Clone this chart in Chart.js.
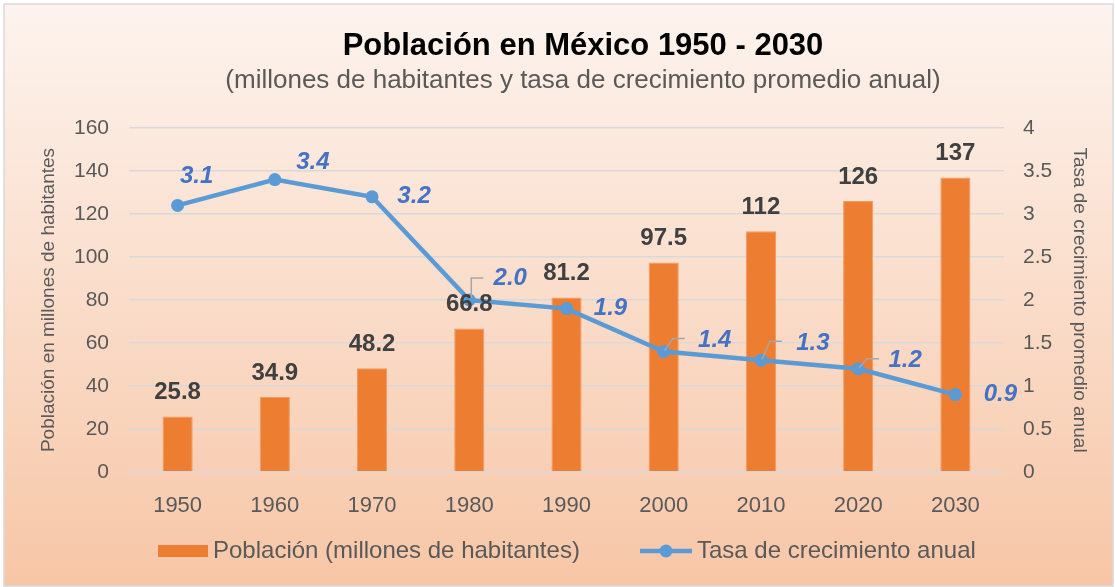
<!DOCTYPE html>
<html>
<head>
<meta charset="utf-8">
<script src="https://cdn.jsdelivr.net/npm/chart.js@4.4.0/dist/chart.umd.min.js"></script>
<style>
  html, body { margin: 0; padding: 0; background: #ffffff; }
  #wrap { width: 1115px; height: 587px; }
</style>
</head>
<body>
<div id="wrap"><canvas id="chart" width="1115" height="587"></canvas></div>
<script>
// data
const years = ['1950', '1960', '1970', '1980', '1990', '2000', '2010', '2020', '2030'];
const poblacion = [25.8, 34.9, 48.2, 66.8, 81.2, 97.5, 112, 126, 137];
const tasa = [3.1, 3.4, 3.2, 2.0, 1.9, 1.4, 1.3, 1.2, 0.9];
const poblacionLabels = ['25.8', '34.9', '48.2', '66.8', '81.2', '97.5', '112', '126', '137'];
const tasaLabels = ['3.1', '3.4', '3.2', '2.0', '1.9', '1.4', '1.3', '1.2', '0.9'];

const FONT = '"Liberation Sans", Arial, sans-serif';
const ORANGE = '#ed7d31';
const BLUE = '#5b9bd5';

// where each rate label sits relative to its point, and whether it has a leader line
const tasaLabelOffset = [
  { dx: 19, dy: -29 }, { dx: 38, dy: -17 }, { dx: 42, dy: 0 },
  { dx: 41, dy: -22, leader: 'elbow' }, { dx: 44, dy: 0 }, { dx: 51, dy: -11, leader: 'diag' },
  { dx: 52, dy: -17, leader: 'diag' }, { dx: 47, dy: -8, leader: 'diag' }, { dx: 45, dy: 0 }
];

const backgroundPlugin = {
  id: 'bg',
  beforeDraw(chart) {
    const ctx = chart.ctx;
    const g = ctx.createLinearGradient(0, 0, 0, chart.height);
    g.addColorStop(0, '#fdf4ef');
    g.addColorStop(1, '#f7c6a6');
    ctx.save();
    ctx.fillStyle = g;
    ctx.fillRect(4, 4, chart.width - 6, chart.height - 5);
    ctx.strokeStyle = '#d9d9d9';
    ctx.lineWidth = 1.5;
    ctx.strokeRect(4, 4, chart.width - 6, chart.height - 5);
    ctx.restore();
  }
};

const labelsPlugin = {
  id: 'labels',
  afterDatasetsDraw(chart) {
    const ctx = chart.ctx;
    ctx.save();
    ctx.textAlign = 'center';
    ctx.textBaseline = 'middle';

    // titles
    ctx.fillStyle = '#000000';
    ctx.font = 'bold 31px ' + FONT;
    ctx.fillText('Población en México 1950 - 2030', 583, 46);
    ctx.fillStyle = '#595959';
    ctx.font = '26px ' + FONT;
    ctx.fillText('(millones de habitantes y tasa de crecimiento promedio anual)', 583, 81);

    // bar labels
    const bars = chart.getDatasetMeta(1).data;
    ctx.fillStyle = '#404040';
    ctx.font = 'bold 24px ' + FONT;
    bars.forEach((b, i) => {
      ctx.fillText(poblacionLabels[i], b.x, b.y - 24);
    });

    // rate labels with leader lines
    const pts = chart.getDatasetMeta(0).data;
    pts.forEach((p, i) => {
      const o = tasaLabelOffset[i];
      if (o.leader) {
        ctx.strokeStyle = '#a6a6a6';
        ctx.lineWidth = 1.5;
        ctx.beginPath();
        if (o.leader === 'elbow') {
          ctx.moveTo(p.x + 2, p.y - 2);
          ctx.lineTo(p.x + 2, p.y + o.dy);
          ctx.lineTo(p.x + 14, p.y + o.dy);
        } else {
          ctx.moveTo(p.x + 1, p.y - 1);
          ctx.lineTo(p.x + 9, p.y + o.dy - 2);
          ctx.lineTo(p.x + 21, p.y + o.dy - 2);
        }
        ctx.stroke();
      }
      ctx.fillStyle = '#4472c4';
      ctx.font = 'italic bold 24px ' + FONT;
      ctx.fillText(tasaLabels[i], p.x + o.dx, p.y + o.dy);
    });

    // legend
    const ly = 551;
    ctx.fillStyle = ORANGE;
    ctx.fillRect(158, ly - 6, 50, 12);
    ctx.fillStyle = '#595959';
    ctx.font = '24px ' + FONT;
    ctx.textAlign = 'left';
    ctx.fillText('Población (millones de habitantes)', 213, ly);
    ctx.strokeStyle = BLUE;
    ctx.lineWidth = 4.5;
    ctx.beginPath();
    ctx.moveTo(640, ly);
    ctx.lineTo(692, ly);
    ctx.stroke();
    ctx.fillStyle = BLUE;
    ctx.beginPath();
    ctx.arc(666, ly, 6.5, 0, Math.PI * 2);
    ctx.fill();
    ctx.fillStyle = '#595959';
    ctx.fillText('Tasa de crecimiento anual', 697, ly);
    ctx.restore();
  }
};

new Chart(document.getElementById('chart'), {
  data: {
    labels: years,
    datasets: [
      {
        type: 'line',
        label: 'Tasa de crecimiento anual',
        data: tasa,
        yAxisID: 'y1',
        borderColor: BLUE,
        backgroundColor: BLUE,
        borderWidth: 4.5,
        pointRadius: 6.5,
        pointBackgroundColor: BLUE,
        pointBorderWidth: 0,
        tension: 0,
        order: 0
      },
      {
        type: 'bar',
        label: 'Población (millones de habitantes)',
        data: poblacion,
        yAxisID: 'y',
        backgroundColor: ORANGE,
        borderColor: '#f29a62',
        borderWidth: 1,
        categoryPercentage: 1,
        barPercentage: 0.31,
        order: 1
      }
    ]
  },
  options: {
    responsive: false,
    animation: false,
    layout: { padding: { top: 128, left: 0, right: 0, bottom: 0 } },
    plugins: {
      legend: { display: false },
      title: { display: false },
      tooltip: { enabled: false }
    },
    scales: {
      x: {
        grid: { display: false },
        border: { display: false },
        ticks: { color: '#595959', font: { family: FONT, size: 22 }, padding: 13 },
        afterFit(s) { s.height = 115; }
      },
      y: {
        position: 'left',
        min: 0,
        max: 160,
        ticks: { stepSize: 20, color: '#595959', font: { family: FONT, size: 21 }, padding: 20 },
        grid: { color: '#d9d9d9', lineWidth: 1.5, drawTicks: false },
        border: { display: false },
        title: {
          display: true,
          text: 'Población en millones de habitantes',
          color: '#595959',
          font: { family: FONT, size: 19 },
          padding: { top: 37, bottom: 0 }
        },
        afterFit(s) { s.width = 129; }
      },
      y1: {
        position: 'right',
        min: 0,
        max: 4,
        ticks: {
          stepSize: 0.5, color: '#595959', font: { family: FONT, size: 21 }, padding: 19,
          callback: v => String(v)
        },
        grid: { display: false, drawTicks: false },
        border: { display: false },
        title: {
          display: true,
          text: 'Tasa de crecimiento promedio anual',
          color: '#595959',
          font: { family: FONT, size: 19 },
          padding: { top: 24, bottom: 0 }
        },
        afterFit(s) { s.width = 111; }
      }
    }
  },
  plugins: [backgroundPlugin, labelsPlugin]
});
</script>
</body>
</html>
